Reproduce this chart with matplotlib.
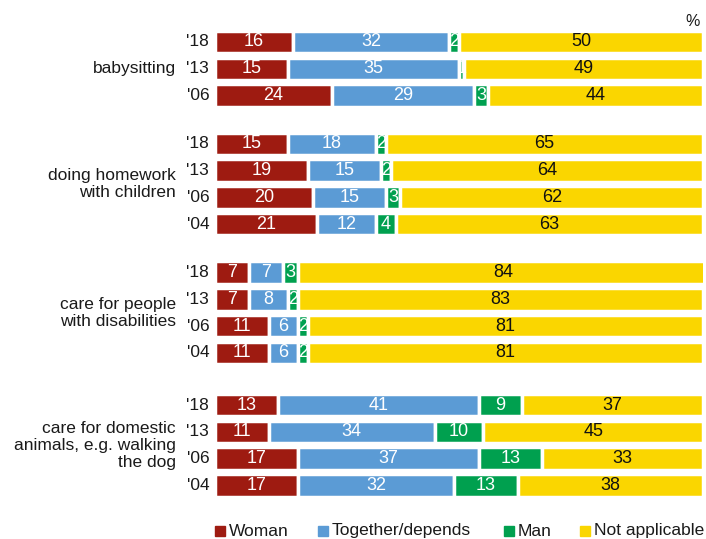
import numpy as np
import matplotlib
matplotlib.use("Agg")
import matplotlib.pyplot as plt
from matplotlib.patches import Rectangle

plt.rcParams['font.family'] = ['Liberation Sans', 'DejaVu Sans']

# data
groups = ["babysitting", "doing homework\nwith children",
          "care for people\nwith disabilities",
          "care for domestic\nanimals, e.g. walking\nthe dog"]
years = [["'18", "'13", "'06"],
         ["'18", "'13", "'06", "'04"],
         ["'18", "'13", "'06", "'04"],
         ["'18", "'13", "'06", "'04"]]
series = ["Woman", "Together/depends", "Man", "Not applicable"]
woman = [16, 15, 24, 15, 19, 20, 21, 7, 7, 11, 11, 13, 11, 17, 17]
together = [32, 35, 29, 18, 15, 15, 12, 7, 8, 6, 6, 41, 34, 37, 32]
man = [2, 1, 3, 2, 2, 3, 4, 3, 2, 2, 2, 9, 10, 13, 13]
not_applicable = [50, 49, 44, 65, 64, 62, 63, 84, 83, 81, 81, 37, 45, 33, 38]

colors = ["#9E1B11", "#5B9BD5", "#00A04F", "#FAD600"]
txt_colors = ["white", "white", "white", "#111111"]

# row positions with gaps between groups
gaps = [0, 1.8, 1.8, 1.95]
pos = []
y = 0
for g, yrs in enumerate(years):
    if g > 0:
        y += gaps[g]
    for i in range(len(yrs)):
        pos.append(y)
        if i < len(yrs) - 1:
            y += 1
pos = np.array(pos)

fig = plt.figure(figsize=(7.06, 5.39), dpi=100)
ax = fig.add_axes([215 / 706, 1 - 497.6 / 539, 488 / 706, (497.6 - 28.6) / 539])

vals = np.array([woman, together, man, not_applicable], dtype=float)
left = np.zeros(len(pos))
for k in range(4):
    bars = ax.barh(pos, vals[k], left=left, height=0.84, color=colors[k],
                   edgecolor="white", linewidth=2.5)
    for b, v, l in zip(bars, vals[k], left):
        t = ax.text(l + v / 2, b.get_y() + b.get_height() / 2, f"{int(v)}",
                    ha="center", va="center", color=txt_colors[k], fontsize=13)
        t.set_clip_path(b)
    left += vals[k]

ax.set_xlim(0, 100)
ax.set_ylim(17.0, -0.5)
ax.axis("off")

# year labels and group labels
idx = 0
for g, yrs in enumerate(years):
    gp = pos[idx:idx + len(yrs)]
    for yl, p in zip(yrs, gp):
        ax.text(-1.2, p, yl, ha="right", va="center", fontsize=12.5, color="#1a1a1a")
    ax.text(-8.0, gp.mean(), groups[g], ha="right", va="center", fontsize=12.5,
            color="#1a1a1a", linespacing=1.15)
    idx += len(yrs)

fig.text(693 / 706, 1 - 22 / 539, "%", ha="center", va="center", fontsize=11.5, color="#1a1a1a")

# legend
leg_x = [215, 318, 504, 580]
for k in range(4):
    fig.patches.append(Rectangle((leg_x[k] / 706, 1 - 536 / 539), 10 / 706, 10 / 539,
                                 transform=fig.transFigure, color=colors[k]))
    fig.text((leg_x[k] + 14) / 706, 1 - 531 / 539, series[k], ha="left", va="center",
             fontsize=12.5, color="#1a1a1a")

fig.savefig("out.png", dpi=100)
